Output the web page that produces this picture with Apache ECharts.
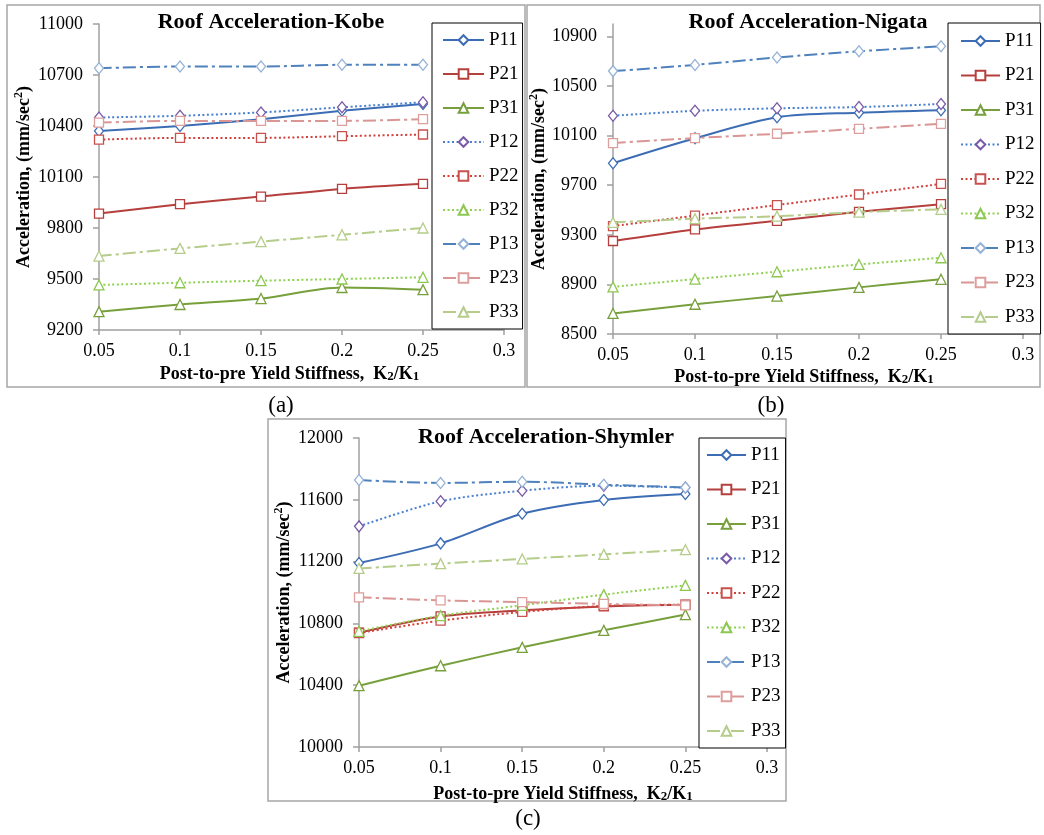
<!DOCTYPE html>
<html><head><meta charset="utf-8">
<script src="https://cdn.jsdelivr.net/npm/echarts@6/dist/echarts.min.js"></script>
<style>html,body{margin:0;padding:0;background:#fff}#c{width:1044px;height:835px}</style>
</head><body><div id="c"></div>
<script>
// ---------- data ----------
const xValues = [0.05, 0.1, 0.15, 0.2, 0.25];
const xTicks = [0.05, 0.1, 0.15, 0.2, 0.25, 0.3];
const seriesNames = ['P11','P21','P31','P12','P22','P32','P13','P23','P33'];

const yTicksKobe = [9200, 9500, 9800, 10100, 10400, 10700, 11000];
const yTicksNigata = [8500, 8900, 9300, 9700, 10100, 10500, 10900];
const yTicksShymler = [10000, 10400, 10800, 11200, 11600, 12000];

const kobeP11 = [10370, 10400, 10440, 10490, 10530];
const kobeP21 = [9885, 9940, 9985, 10030, 10060];
const kobeP31 = [9308, 9350, 9385, 9450, 9437];
const kobeP12 = [10450, 10460, 10480, 10510, 10540];
const kobeP22 = [10320, 10330, 10330, 10340, 10350];
const kobeP32 = [9465, 9478, 9490, 9500, 9510];
const kobeP13 = [10740, 10750, 10750, 10760, 10760];
const kobeP23 = [10420, 10430, 10430, 10430, 10440];
const kobeP33 = [9635, 9680, 9720, 9760, 9800];

const nigataP11 = [9877, 10078, 10248, 10285, 10305];
const nigataP21 = [9250, 9343, 9413, 9485, 9547];
const nigataP31 = [8666, 8740, 8806, 8876, 8941];
const nigataP12 = [10260, 10300, 10320, 10330, 10355];
const nigataP22 = [9370, 9455, 9540, 9625, 9710];
const nigataP32 = [8880, 8943, 9002, 9061, 9115];
const nigataP13 = [10620, 10670, 10730, 10780, 10820];
const nigataP23 = [10040, 10080, 10115, 10155, 10195];
const nigataP33 = [9400, 9430, 9450, 9483, 9505];

const shymlerP11 = [11191, 11318, 11510, 11599, 11638];
const shymlerP21 = [10740, 10845, 10885, 10910, 10920];
const shymlerP31 = [10397, 10526, 10645, 10755, 10857];
const shymlerP12 = [11428, 11590, 11659, 11691, 11679];
const shymlerP22 = [10738, 10818, 10874, 10913, 10921];
const shymlerP32 = [10749, 10850, 10917, 10986, 11046];
const shymlerP13 = [11728, 11709, 11717, 11698, 11680];
const shymlerP23 = [10969, 10949, 10938, 10926, 10917];
const shymlerP33 = [11156, 11187, 11217, 11247, 11277];

const kobeData = [kobeP11, kobeP21, kobeP31, kobeP12, kobeP22, kobeP32, kobeP13, kobeP23, kobeP33];
const nigataData = [nigataP11, nigataP21, nigataP31, nigataP12, nigataP22, nigataP32, nigataP13, nigataP23, nigataP33];
const shymlerData = [shymlerP11, shymlerP21, shymlerP31, shymlerP12, shymlerP22, shymlerP32, shymlerP13, shymlerP23, shymlerP33];

// ---------- styles ----------
const FONT = 'Liberation Serif';
const DOT = [2, 2.5];
const DASHDOT = [13, 4, 3, 4];
const styles = {
  P11: {line: '#3C6DB4', mark: '#3C6DB4', type: 'solid', sym: 'diamond'},
  P21: {line: '#B53F3C', mark: '#B53F3C', type: 'solid', sym: 'rect'},
  P31: {line: '#77A03C', mark: '#77A03C', type: 'solid', sym: 'triangle'},
  P12: {line: '#4A80D0', mark: '#7A5AA6', type: DOT, sym: 'diamond'},
  P22: {line: '#D0413E', mark: '#C8504D', type: DOT, sym: 'rect'},
  P32: {line: '#8FD14F', mark: '#8CC850', type: DOT, sym: 'triangle'},
  P13: {line: '#4F81BD', mark: '#95B3D7', type: DASHDOT, sym: 'diamond'},
  P23: {line: '#D99694', mark: '#DE9E9C', type: DASHDOT, sym: 'rect'},
  P33: {line: '#B5CC8A', mark: '#B5CC8A', type: DASHDOT, sym: 'triangle'}
};
const symSize = {diamond: [9, 11], rect: 9, triangle: 10};

const panels = [
  {title: 'Roof Acceleration-Kobe', data: kobeData, yTicks: yTicksKobe, ymin: 9200, ymax: 11000,
   grid: {left: 99, top: 24, width: 405, height: 306}, titlePos: [271, 22],
   yGap: 66, xGap: 31, xPad: [0, 24, 0, 0],
   legend: {left: 432, top: 23, itemWidth: 41, itemGap: 14, padding: [7, 4, 7, 10]}},
  {title: 'Roof Acceleration-Nigata', data: nigataData, yTicks: yTicksNigata, ymin: 8500, ymax: 11000,
   grid: {left: 613, top: 24, width: 410, height: 310}, titlePos: [808, 22],
   yGap: 62, xGap: 30, xPad: [0, 28, 0, 0],
   legend: {left: 948, top: 23, itemWidth: 39, itemGap: 14.5, padding: [8, 6, 7, 12]}},
  {title: 'Roof Acceleration-Shymler', data: shymlerData, yTicks: yTicksShymler, ymin: 10000, ymax: 12000,
   grid: {left: 359, top: 438, width: 408, height: 309}, titlePos: [546, 437],
   yGap: 66, xGap: 34, xPad: [0, 0, 0, 0],
   legend: {left: 699, top: 438, itemWidth: 39, itemGap: 14.5, padding: [7, 5, 7, 7]}}
];

const axisGray = '#A0A0A0';
const legendText = {fontFamily: FONT, fontSize: 19, lineHeight: 20, color: '#000', fontWeight: 'normal'};
const grids = [], xAxes = [], yAxes = [], series = [], legends = [], graphics = [];

panels.forEach((p, i) => {
  grids.push(Object.assign({containLabel: false}, p.grid));
  xAxes.push({
    type: 'value', gridIndex: i, min: 0.05, max: 0.3, interval: 0.05,
    axisLine: {show: true, lineStyle: {color: axisGray, width: 1.5}},
    axisTick: {show: true, inside: false, length: 5, customValues: xTicks, lineStyle: {color: axisGray, width: 1.5}},
    splitLine: {show: false},
    axisLabel: {margin: 12, fontFamily: FONT, fontSize: 18, color: '#000', customValues: xTicks,
      formatter: v => String(+(+v).toFixed(2))},
    name: '{b|Post-to-pre Yield Stiffness,  K}{s|2}{b|/K}{s|1}',
    nameLocation: 'middle', nameGap: p.xGap,
    nameTextStyle: {padding: p.xPad, verticalAlign: 'top', rich: {
      b: {fontFamily: FONT, fontSize: 18, fontWeight: 'bold', color: '#000', lineHeight: 22, verticalAlign: 'bottom'},
      s: {fontFamily: FONT, fontSize: 13, fontWeight: 'bold', color: '#000', lineHeight: 13, verticalAlign: 'bottom'}
    }}
  });
  yAxes.push({
    type: 'value', gridIndex: i, min: p.ymin, max: p.ymax,
    axisLine: {show: true, lineStyle: {color: axisGray, width: 1.5}},
    axisTick: {show: true, inside: false, length: 6, customValues: p.yTicks, lineStyle: {color: axisGray, width: 1.5}},
    splitLine: {show: false},
    axisLabel: {margin: 16, fontFamily: FONT, fontSize: 18, color: '#000', customValues: p.yTicks,
      formatter: v => String(v)},
    name: '{b|Acceleration, (mm/sec}{s|2}{b|)}',
    nameLocation: 'middle', nameGap: p.yGap, nameRotate: 90,
    nameTextStyle: {rich: {
      b: {fontFamily: FONT, fontSize: 18, fontWeight: 'bold', color: '#000', lineHeight: 20, verticalAlign: 'bottom'},
      s: {fontFamily: FONT, fontSize: 12, fontWeight: 'bold', color: '#000', lineHeight: 20, verticalAlign: 'top'}
    }}
  });
  seriesNames.forEach((n, k) => {
    const st = styles[n];
    series.push({
      name: n, type: 'line', xAxisIndex: i, yAxisIndex: i, smooth: 0.3,
      data: xValues.map((x, j) => [x, p.data[k][j]]),
      symbol: st.sym, symbolSize: symSize[st.sym], showAllSymbol: true,
      lineStyle: {color: st.line, width: 2, type: st.type},
      itemStyle: {color: '#fff', borderColor: st.mark, borderWidth: 1.3},
      emphasis: {disabled: true}, z: 2 + k
    });
  });
  legends.push(Object.assign({
    orient: 'vertical', itemHeight: 12, selectedMode: false,
    borderColor: '#000', borderWidth: 1, backgroundColor: '#fff',
    textStyle: Object.assign({}, legendText),
    data: seriesNames.map(n => ({name: n, textStyle: Object.assign({}, legendText)}))
  }, p.legend));
  graphics.push({type: 'text', x: p.titlePos[0], y: p.titlePos[1], z: 10,
    style: {text: p.title, fontFamily: FONT, fontSize: 22, fontWeight: 'bold', fill: '#000',
      textAlign: 'center', textVerticalAlign: 'middle'}});
});

// panel frames and captions
[[7, 5, 518, 382], [527, 5, 513, 382], [268, 419, 518, 382]].forEach(r => {
  graphics.push({type: 'rect', z: -1, shape: {x: r[0], y: r[1], width: r[2], height: r[3]},
    style: {fill: 'none', stroke: '#A6A6A6', lineWidth: 1.5}});
});
[['(a)', 281, 406], ['(b)', 771, 406], ['(c)', 528, 819]].forEach(c => {
  graphics.push({type: 'text', x: c[1], y: c[2],
    style: {text: c[0], fontFamily: FONT, fontSize: 23, fill: '#000', textAlign: 'center', textVerticalAlign: 'middle'}});
});

const chart = echarts.init(document.getElementById('c'), null, {renderer: 'canvas'});
chart.setOption({
  animation: false, backgroundColor: '#fff',
  textStyle: {fontFamily: FONT},
  grid: grids, xAxis: xAxes, yAxis: yAxes, series: series, legend: legends, graphic: graphics
});
</script></body></html>
